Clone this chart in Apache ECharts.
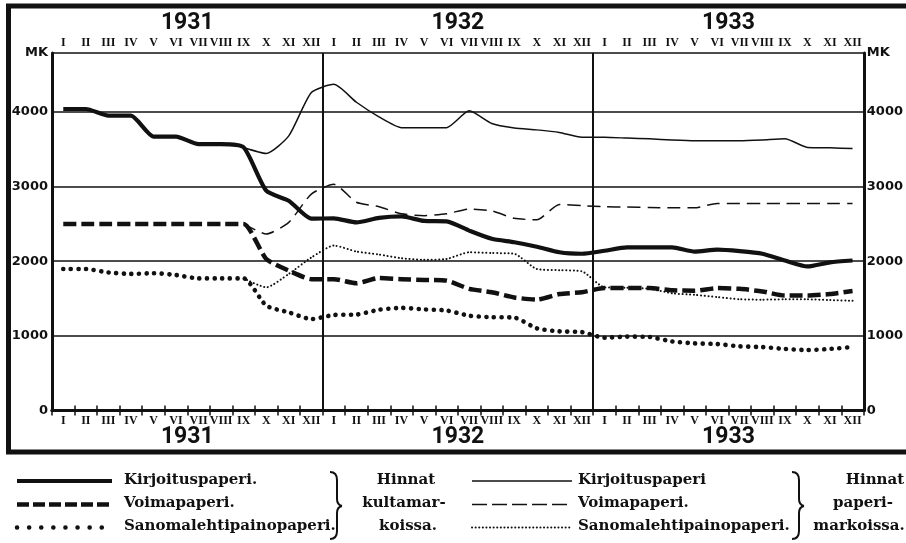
<!DOCTYPE html>
<html><head><meta charset="utf-8">
<script src="https://cdn.jsdelivr.net/npm/echarts@6/dist/echarts.min.js"></script>
<style>html,body{margin:0;padding:0;background:#fff}#c{width:906px;height:543px}</style>
</head><body><div id="c"></div>
<script>
// ---- data ----
const years = ['1931', '1932', '1933'];
const monthLabels = ['I','II','III','IV','V','VI','VII','VIII','IX','X','XI','XII'];
const unitLabel = 'MK';
const yMax = 4790;
const yTicks = [0, 1000, 2000, 3000, 4000];

// Hinnat kultamarkoissa (gold marks) – thick lines
const kirjGold  = [4040,4040,3950,3950,3670,3670,3570,3570,3525,2945,2810,2570,
                   2575,2520,2580,2600,2540,2535,2410,2300,2255,2195,2120,2100,
                   2140,2185,2185,2185,2130,2155,2135,2100,2010,1930,1985,2010];
const voimaGold = [2500,2500,2500,2500,2500,2500,2500,2500,2500,2030,1875,1760,
                   1760,1705,1775,1760,1750,1740,1630,1585,1515,1485,1560,1585,
                   1640,1640,1640,1610,1605,1640,1630,1595,1540,1540,1560,1600];
const sanGold   = [1895,1895,1850,1830,1840,1815,1770,1770,1770,1405,1315,1225,
                   1280,1285,1350,1375,1355,1340,1270,1250,1245,1100,1060,1050,
                   975,990,985,925,900,890,860,850,825,810,825,850];
// Hinnat paperimarkoissa (paper marks) – thin lines (coincide with gold until IX 1931)
const kirjPaper  = [null,null,null,null,null,null,null,null,3525,3445,3680,4260,
                    4370,4130,3935,3790,3790,3790,4015,3845,3785,3760,3725,3660,
                    3660,3650,3640,3625,3615,3615,3615,3625,3640,3525,3520,3510];
const voimaPaper = [null,null,null,null,null,null,null,null,2500,2365,2520,2900,
                    3030,2790,2730,2635,2610,2635,2700,2675,2575,2555,2760,2745,
                    2730,2725,2720,2715,2715,2775,2775,2775,2775,2775,2775,2775];
const sanPaper   = [null,null,null,null,null,null,null,null,1770,1650,1830,2050,
                    2210,2130,2090,2040,2020,2030,2120,2110,2100,1895,1880,1865,
                    1650,1645,1630,1570,1550,1520,1490,1485,1490,1490,1480,1470];

const legendLeft  = ['Kirjoituspaperi.', 'Voimapaperi.', 'Sanomalehtipainopaperi.'];
const legendRight = ['Kirjoituspaperi', 'Voimapaperi.', 'Sanomalehtipainopaperi.'];
const noteLeft  = ['Hinnat', 'kultamar-', 'koissa.'];
const noteRight = ['Hinnat', 'paperi-', 'markoissa.'];

// ---- chart ----
const categories = [];
years.forEach(() => monthLabels.forEach(m => categories.push(m)));

const INK = '#111';
const monthFont = {fontFamily: 'Liberation Serif', fontWeight: 'bold', fontSize: 12, color: INK};
const yearFont = {fontFamily: 'Roboto', fontWeight: 'bold', fontSize: 23, color: INK};
const yLabel = {
  fontFamily: 'DejaVu Sans', fontWeight: 'bold', fontSize: 13, color: INK,
  formatter: v => (yTicks.indexOf(v) >= 0 ? String(v) : unitLabel)
};

function monthAxis(pos) {
  return {
    type: 'category', position: pos, data: categories, boundaryGap: true,
    axisLine: {show: true, lineStyle: {color: INK, width: 3}},
    axisTick: {show: true, inside: true, length: 5, interval: 0, lineStyle: {color: INK, width: 1.5}},
    axisLabel: Object.assign({interval: 0, margin: 4}, monthFont),
    splitLine: {show: false}
  };
}
function yearAxis(pos, margin, split) {
  return {
    type: 'category', position: pos, data: years, boundaryGap: true,
    axisLine: {show: false}, axisTick: {show: false},
    axisLabel: Object.assign({interval: 0, margin: margin}, yearFont),
    splitLine: {show: split, interval: 0, lineStyle: {color: INK, width: 2}}
  };
}
function valueAxis(pos, margin, split) {
  return {
    type: 'value', position: pos, min: 0, max: yMax, interval: 1000,
    axisLine: {show: true, lineStyle: {color: INK, width: 3}},
    axisTick: {show: false},
    axisLabel: Object.assign({margin: margin}, yLabel),
    splitLine: {show: split, lineStyle: {color: INK, width: 1.5}}
  };
}
function line(data, width, type, cap) {
  return {
    type: 'line', data: data, xAxisIndex: 0, yAxisIndex: 0,
    symbol: 'none', smooth: 0.2, silent: true,
    lineStyle: {color: INK, width: width, type: type, cap: cap || 'butt', join: 'round'}
  };
}

function legendItems(x1, x2, textX, labels, styles) {
  const out = [];
  const ys = [481, 504.5, 527.5];
  labels.forEach((t, i) => {
    const s = styles[i];
    out.push({type: 'line', shape: {x1: x1, y1: ys[i], x2: s.end || x2, y2: ys[i]},
      style: {stroke: INK, lineWidth: s.w, lineDash: s.dash || null, lineCap: s.cap || 'butt'}});
    out.push({type: 'text', x: textX, y: ys[i] - 1, style: {text: t, fill: INK,
      font: 'bold 15px "DejaVu Serif"', textAlign: 'left', textVerticalAlign: 'middle',
      align: 'left', verticalAlign: 'middle'}});
  });
  return out;
}
function note(xs, labels) {
  const ys = [480, 503.5, 526.5];
  return labels.map((t, i) => ({type: 'text', x: xs[i], y: ys[i], style: {text: t, fill: INK,
    font: 'bold 15px "DejaVu Serif"', textAlign: 'center', textVerticalAlign: 'middle',
    align: 'center', verticalAlign: 'middle'}}));
}
function brace(x) {
  const st = {fill: 'none', stroke: INK, lineWidth: 2};
  return [
    {type: 'bezierCurve', shape: {x1: x, y1: 472, cpx1: x + 7, cpy1: 472, x2: x + 7, y2: 480}, style: st},
    {type: 'line', shape: {x1: x + 7, y1: 480, x2: x + 7, y2: 499}, style: st},
    {type: 'bezierCurve', shape: {x1: x + 7, y1: 499, cpx1: x + 7, cpy1: 505, x2: x + 12, y2: 506}, style: st},
    {type: 'bezierCurve', shape: {x1: x + 12, y1: 506, cpx1: x + 7, cpy1: 507, x2: x + 7, y2: 513}, style: st},
    {type: 'line', shape: {x1: x + 7, y1: 513, x2: x + 7, y2: 531}, style: st},
    {type: 'bezierCurve', shape: {x1: x + 7, y1: 531, cpx1: x + 7, cpy1: 539, x2: x, y2: 539}, style: st}
  ];
}

const chart = echarts.init(document.getElementById('c'), null, {renderer: 'canvas'});
chart.setOption({
  backgroundColor: '#fff',
  animation: false,
  grid: {left: 52, right: 42, top: 53, bottom: 132.5, containLabel: false},
  xAxis: [monthAxis('bottom'), monthAxis('top'), yearAxis('bottom', 15.5, true), yearAxis('top', 18, false)],
  yAxis: [valueAxis('left', 4, true), valueAxis('right', 3, false)],
  series: [
    line(kirjPaper, 1.5, 'solid'),
    line(voimaPaper, 1.5, [13, 7]),
    line(sanPaper, 2, [0.1, 3.6], 'round'),
    line(kirjGold, 4.2, 'solid'),
    line(voimaGold, 4.5, [13, 5]),
    line(sanGold, 4.6, [0.1, 7.5], 'round')
  ],
  graphic: [
    {type: 'rect', shape: {x: 8.5, y: 6, width: 960, height: 446},
     style: {fill: 'none', stroke: INK, lineWidth: 5}, silent: true}
  ].concat(
    legendItems(17, 112, 124, legendLeft, [
      {w: 4}, {w: 4.5, dash: [12, 4]}, {w: 4.5, dash: [0.1, 12], cap: 'round', end: 108}
    ]),
    legendItems(472, 572, 578, legendRight, [
      {w: 1.5}, {w: 1.5, dash: [15, 5]}, {w: 2, dash: [0.1, 3.5], cap: 'round'}
    ]),
    note([406, 404, 408], noteLeft),
    note([875, 863, 859], noteRight),
    brace(330), brace(792)
  )
});
</script>
</body></html>
